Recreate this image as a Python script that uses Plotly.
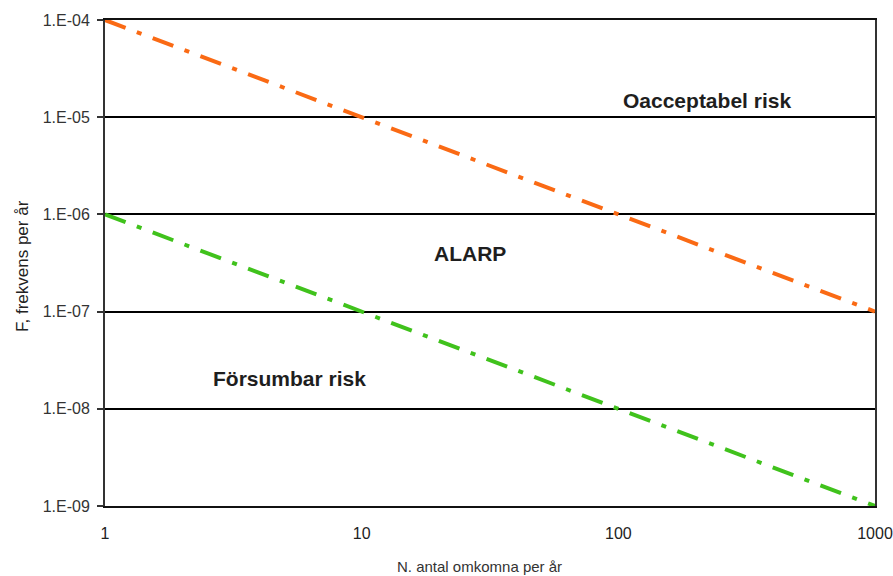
import plotly.graph_objects as go

# Data
n_values = [1, 1000]
unacceptable_limit = [1e-4, 1e-7]
negligible_limit = [1e-6, 1e-9]

x_tickvals = [1, 10, 100, 1000]
x_ticktext = ["1", "10", "100", "1000"]
y_tickvals = [1e-9, 1e-8, 1e-7, 1e-6, 1e-5, 1e-4]
y_ticktext = ["1.E-09", "1.E-08", "1.E-07", "1.E-06", "1.E-05", "1.E-04"]

region_labels = ["Oacceptabel risk", "ALARP", "Försumbar risk"]
region_x = [0.782, 0.474, 0.240]
region_y = [0.835, 0.519, 0.263]

x_title = "N. antal omkomna per år"
y_title = "F, frekvens per år"

FONT = "Liberation Sans, Arial, sans-serif"
dash = "22px,12px,5px,12px"

W, H = 893, 576
L, T = 105, 20
pw, ph = 770, 486
R = W - L - pw
B = H - T - ph

fig = go.Figure()
fig.add_trace(go.Scatter(x=n_values, y=unacceptable_limit, mode="lines",
                         line=dict(color="#fa6a14", width=4, dash=dash),
                         showlegend=False, hoverinfo="skip"))
fig.add_trace(go.Scatter(x=n_values, y=negligible_limit, mode="lines",
                         line=dict(color="#40c21c", width=4, dash=dash),
                         showlegend=False, hoverinfo="skip"))

for t, xp, yp in zip(region_labels, region_x, region_y):
    fig.add_annotation(text="<b>%s</b>" % t, x=xp, y=yp, xref="paper", yref="paper",
                       showarrow=False, xanchor="center", yanchor="middle",
                       font=dict(family=FONT, size=21, color="#1e1e1e"))

# axis titles (positions given in window pixels, converted to paper coords)
def px_to_paper(xw, yw):
    return (xw - L) / pw, (H - B - yw) / ph

xt, yt = px_to_paper(479, 566)
fig.add_annotation(text=x_title, x=xt, y=yt, xref="paper", yref="paper",
                   showarrow=False, xanchor="center", yanchor="middle",
                   font=dict(family=FONT, size=15, color="#333333"))
xt, yt = px_to_paper(22, 266)
fig.add_annotation(text=y_title, x=xt, y=yt, xref="paper", yref="paper",
                   showarrow=False, xanchor="center", yanchor="middle", textangle=-90,
                   font=dict(family=FONT, size=17, color="#222222"))

fig.update_layout(
    width=W, height=H,
    margin=dict(l=L, r=R, t=T, b=B, autoexpand=False),
    paper_bgcolor="white", plot_bgcolor="white",
    font=dict(family=FONT, color="#333333"),
    xaxis=dict(type="log", range=[0, 3], tickvals=x_tickvals, ticktext=x_ticktext,
               showgrid=False, zeroline=False, showline=True, linecolor="#111111",
               linewidth=2, mirror=True, ticks="", ticklabelstandoff=12,
               ticklabeloverflow="allow", automargin=False,
               tickfont=dict(size=16, color="#222222")),
    yaxis=dict(type="log", range=[-9, -4], tickvals=y_tickvals, ticktext=y_ticktext,
               showgrid=True, gridcolor="#000000", gridwidth=2, zeroline=False,
               showline=True, linecolor="#333333", linewidth=2, mirror=True,
               ticks="outside", ticklen=6, tickcolor="#333333", tickwidth=2,
               ticklabelstandoff=4, automargin=False,
               tickfont=dict(size=16, color="#333333")),
)

# remove the browser's default page margin so the figure fills the window exactly
fig.write_html("out.html",
               config={"displayModeBar": False},
               post_script="document.body.style.margin='0';"
                           "document.body.style.overflow='hidden';")
